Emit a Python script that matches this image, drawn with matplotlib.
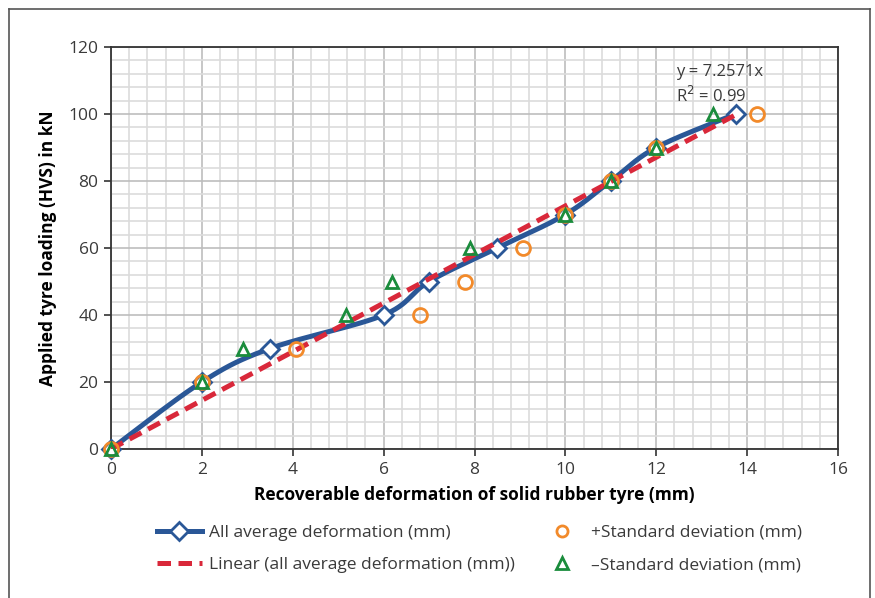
import numpy as np
import matplotlib.pyplot as plt
from matplotlib.lines import Line2D
from matplotlib.ticker import MultipleLocator

plt.rcParams["font.family"] = ["Open Sans", "DejaVu Sans"]

# load levels (kN) and recoverable deformation (mm)
load = [0, 20, 30, 40, 50, 60, 70, 80, 90, 100]
avg_def = [0, 2.0, 3.5, 6.0, 7.0, 8.5, 10.0, 11.0, 12.0, 13.75]
plus_sd = [0, 2.0, 4.07, 6.8, 7.8, 9.07, 10.0, 11.0, 12.0, 14.22]
minus_sd = [0, 2.0, 2.9, 5.17, 6.18, 7.9, 10.0, 11.0, 12.0, 13.25]
slope = 7.2571
r2 = 0.99

BLUE = "#2a5797"
RED = "#d9283a"
ORANGE = "#f28a2a"
GREEN = "#1a8c3c"
TXT = "#3a3a3a"


def smooth(x, y, sx=45.4, sy=3.35, n=30):
    """Catmull-Rom curve through the points (like Excel's smoothed line)."""
    p = np.column_stack([np.asarray(x) * sx, np.asarray(y) * sy])
    p = np.vstack([p[0], p, p[-1]])
    out = []
    for i in range(1, len(p) - 2):
        p0, p1, p2, p3 = p[i - 1], p[i], p[i + 1], p[i + 2]
        c1 = p1 + (p2 - p0) / 6
        c2 = p2 - (p3 - p1) / 6
        t = np.linspace(0, 1, n)[:, None]
        seg = ((1 - t) ** 3) * p1 + 3 * ((1 - t) ** 2) * t * c1 \
            + 3 * (1 - t) * t ** 2 * c2 + t ** 3 * p2
        out.append(seg)
    out = np.vstack(out)
    return out[:, 0] / sx, out[:, 1] / sy


fig = plt.figure(figsize=(8.75, 5.98), dpi=100)
ax = fig.add_axes([111 / 875, 1 - 449 / 598, (838 - 111) / 875, (449 - 47) / 598])

# outer frame (open at the bottom)
for xs, ys in [([9 / 875, 9 / 875], [0, 1 - 9 / 598]),
               ([9 / 875, 870 / 875], [1 - 9 / 598, 1 - 9 / 598]),
               ([870 / 875, 870 / 875], [1 - 9 / 598, 0])]:
    fig.add_artist(Line2D(xs, ys, color="#555555", lw=1.2))

sx, sy = smooth(avg_def, load)
ax.plot(sx, sy, color=BLUE, lw=3.6, zorder=3, solid_capstyle="round",
        clip_on=False)
ax.plot(avg_def, load, ls="none", marker="D", ms=9, mfc="white", mec=BLUE,
        mew=2, zorder=4, clip_on=False)
fit_x = np.array([0, max(avg_def)])
ax.plot(fit_x, slope * fit_x, color=RED, lw=3.6, dashes=(2.7, 1.5), zorder=5)
ax.plot(plus_sd, load, ls="none", marker="o", ms=10, mfc="none", mec=ORANGE,
        mew=2, zorder=6, clip_on=False)
ax.plot(minus_sd, load, ls="none", marker="^", ms=9, mfc="none", mec=GREEN,
        mew=2, zorder=7, clip_on=False)

ax.text(13.4, 112.5, f"y = {slope}x", ha="center", va="center", fontsize=12,
        color=TXT)
ax.text(13.2, 105.5, f"R$^2$ = {r2}", ha="center", va="center", fontsize=12,
        color=TXT)

ax.set_xlim(0, 16)
ax.set_ylim(0, 120)
ax.xaxis.set_major_locator(MultipleLocator(2))
ax.xaxis.set_minor_locator(MultipleLocator(0.4))
ax.yaxis.set_major_locator(MultipleLocator(20))
ax.yaxis.set_minor_locator(MultipleLocator(4))
ax.grid(which="major", color="#bdbdbd", lw=1.2)
ax.grid(which="minor", color="#dcdcdc", lw=1.2)
ax.set_axisbelow(True)
ax.tick_params(which="major", direction="out", length=5, width=1.2,
               colors="#333333", labelsize=12.5, labelcolor=TXT, pad=4)
ax.tick_params(which="minor", length=0)
for s in ax.spines.values():
    s.set_color("#333333")
    s.set_linewidth(1.3)

ax.set_xlabel("Recoverable deformation of solid rubber tyre (mm)",
              fontsize=12.5, fontweight="bold", color="black", labelpad=6)
ax.set_ylabel("Applied tyre loading (HVS) in kN", fontsize=12.5,
              fontweight="bold", color="black", labelpad=8)

handles = [
    Line2D([], [], color=BLUE, lw=3.6, marker="D", ms=9, mfc="white",
           mec=BLUE, mew=2),
    Line2D([], [], color=RED, lw=3.6, dashes=(2.7, 1.5)),
    Line2D([], [], ls="none", marker="o", ms=8, mfc="none", mec=ORANGE, mew=2),
    Line2D([], [], ls="none", marker="^", ms=8, mfc="none", mec=GREEN, mew=2),
]
labels = ["All average deformation (mm)",
          "Linear (all average deformation (mm))",
          "+Standard deviation (mm)",
          "\u2013Standard deviation (mm)"]
leg = fig.legend(handles, labels, ncol=2, loc="center",
                 bbox_to_anchor=(0.548, 0.082), frameon=False, fontsize=12.5,
                 handlelength=2.6, handletextpad=0.4, columnspacing=1.4,
                 labelspacing=0.95)
for t in leg.get_texts():
    t.set_color(TXT)

fig.savefig("out.png", dpi=100)
